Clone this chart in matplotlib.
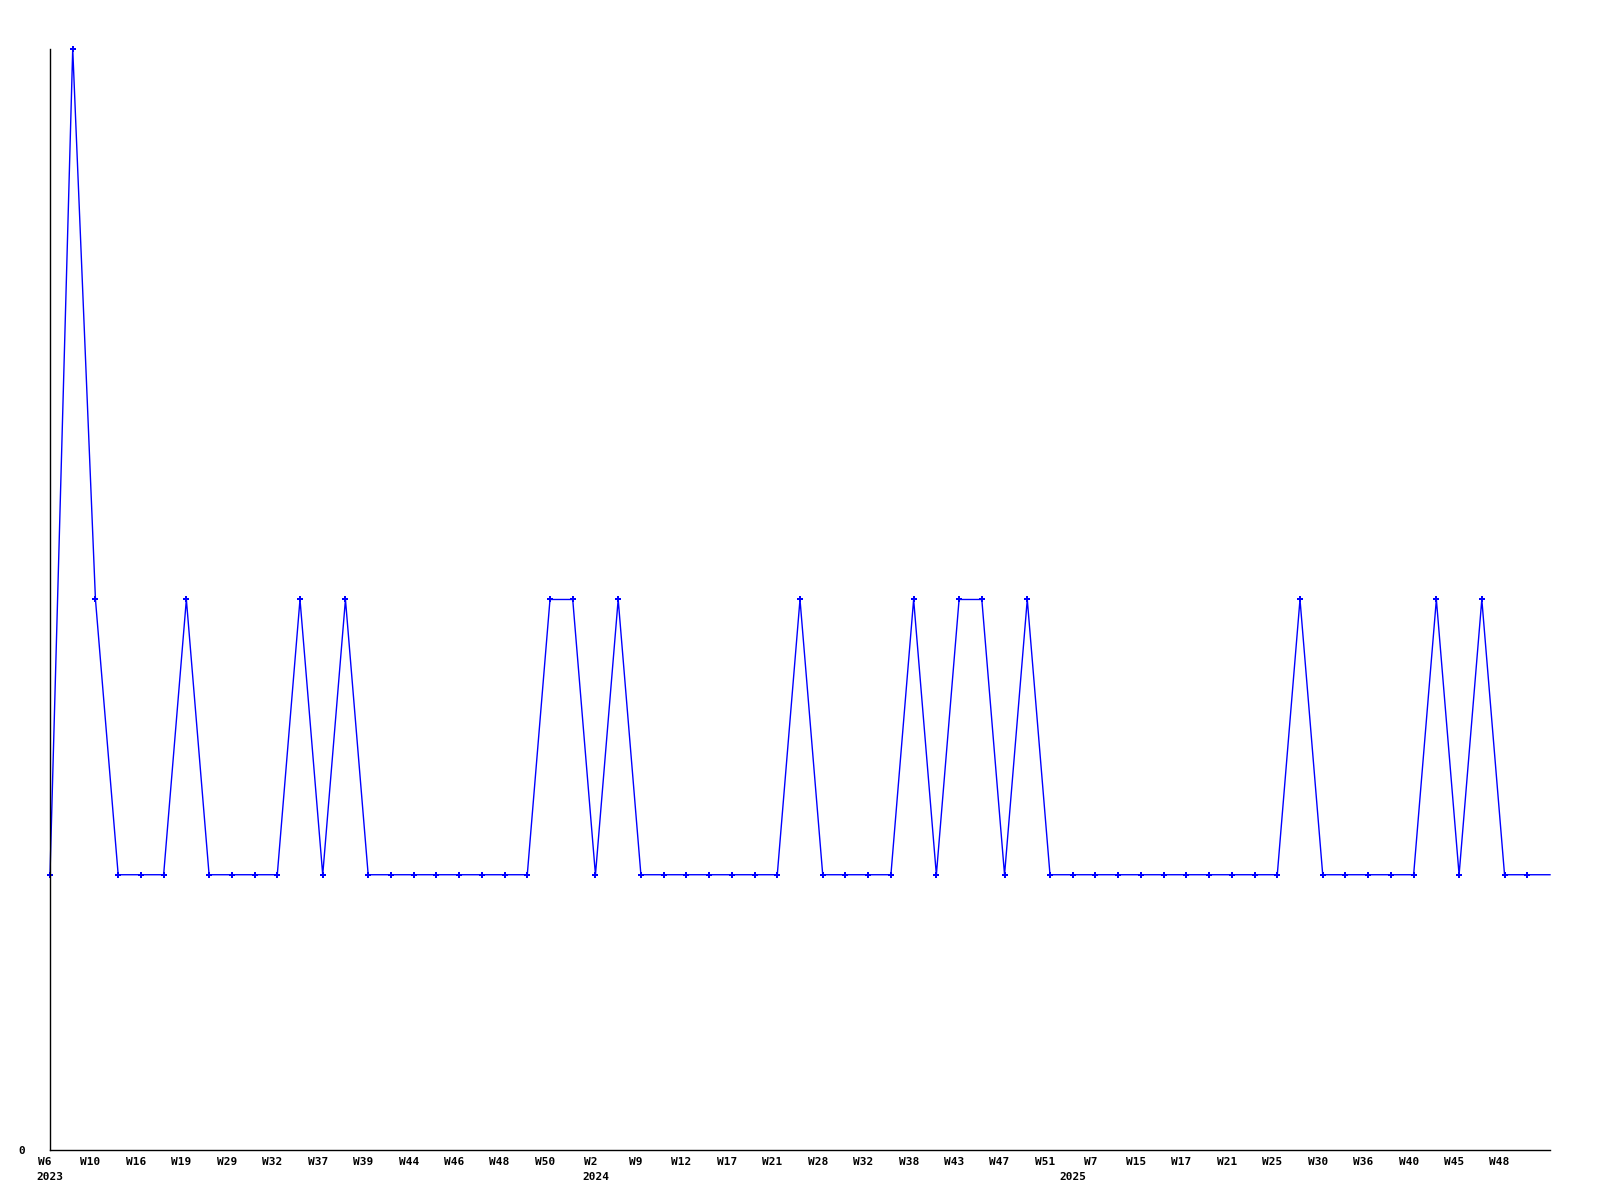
import matplotlib.pyplot as plt
from matplotlib.transforms import blended_transform_factory, offset_copy

# weekly counts, one point per period
values = [1, 4, 2, 1, 1, 1, 2, 1, 1, 1, 1, 2, 1, 2, 1, 1, 1, 1, 1, 1,
          1, 1, 2, 2, 1, 2, 1, 1, 1, 1, 1, 1, 1, 2, 1, 1, 1, 1, 2, 1,
          2, 2, 1, 2, 1, 1, 1, 1, 1, 1, 1, 1, 1, 1, 1, 2, 1, 1, 1, 1,
          1, 2, 1, 2, 1, 1, 1]

# labels shown on every second point
week_labels = ['W6', 'W10', 'W16', 'W19', 'W29', 'W32', 'W37', 'W39', 'W44', 'W46',
               'W48', 'W50', 'W2', 'W9', 'W12', 'W17', 'W21', 'W28', 'W32', 'W38',
               'W43', 'W47', 'W51', 'W7', 'W15', 'W17', 'W21', 'W25', 'W30', 'W36',
               'W40', 'W45', 'W48']

# year markers: point index where a new year starts
year_pos = [0, 24, 45]
year_labels = ['2023', '2024', '2025']

font = dict(family='DejaVu Sans Mono', weight='bold', size=8)

fig = plt.figure(figsize=(16, 12), dpi=100)
ax = fig.add_axes([0.03125, 0.04167, 0.9375, 0.91753])

x = list(range(len(values)))
ax.plot(x, values, color='#0000ff', linewidth=1, marker='P', markersize=4,
        markeredgewidth=0, markevery=list(range(len(values) - 1)), clip_on=False)

ax.set_xlim(0, len(values) - 1)
ax.set_ylim(0, 4)

ax.spines['top'].set_visible(False)
ax.spines['right'].set_visible(False)
ax.spines['left'].set_linewidth(1)
ax.spines['bottom'].set_linewidth(1)

ax.set_yticks([0])
ax.set_yticklabels(['0'], **font)
ax.tick_params(axis='y', length=0, pad=18)

ax.set_xticks([])
trans = blended_transform_factory(ax.transData, ax.transAxes)
wtrans = offset_copy(trans, fig=fig, x=-5, y=-12, units='dots')
for i, lab in enumerate(week_labels):
    ax.text(2 * i, 0, lab, transform=wtrans, ha='center', va='center', **font)

ytrans = offset_copy(trans, fig=fig, x=0, y=-27, units='dots')
for p, lab in zip(year_pos, year_labels):
    ax.text(p, 0, lab, transform=ytrans, ha='center', va='center', **font)

fig.savefig('out.png', dpi=100)
